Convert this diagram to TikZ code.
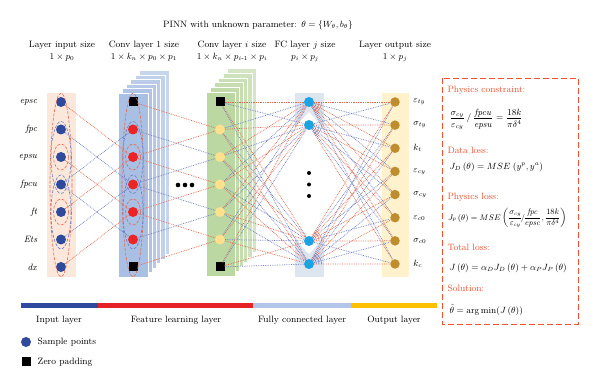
\documentclass[tikz,border=0pt]{standalone}
\usepackage{amsmath}
\usepackage{tikz}
\usetikzlibrary{positioning, shapes.geometric}

\definecolor{inbg}{HTML}{FBE8DB}
\definecolor{convblue}{HTML}{A9BFE3}
\definecolor{convgreen}{HTML}{BBD7A2}
\definecolor{fcbg}{HTML}{DDE5EF}
\definecolor{outbg}{HTML}{FFF2CD}
\definecolor{sampblue}{HTML}{2F4A9D}
\definecolor{convred}{HTML}{EE2326}
\definecolor{convyel}{HTML}{FFE08C}
\definecolor{fccyan}{HTML}{1CA3E3}
\definecolor{outgold}{HTML}{BF8D2C}
\definecolor{lred}{HTML}{E6694F}
\definecolor{lblue}{HTML}{6F80C2}
\definecolor{boxred}{HTML}{F0502D}
\definecolor{barblue}{HTML}{2E4A9E}
\definecolor{barred}{HTML}{E42227}
\definecolor{barlight}{HTML}{B4C6E7}
\definecolor{bargold}{HTML}{FFC000}

\tikzset{
 link/.style={densely dotted, line width=0.75pt, draw=#1},
 kernel/.style={line width=0.6pt, draw=#1, dash pattern=on 3pt off 1.5pt}
}

\begin{document}
\begin{tikzpicture}[x=1pt, y=-1pt, font=\fontsize{9.2}{12}\selectfont]
\tikzstyle{samp}=[circle, inner sep=0pt, minimum size=10pt]
\tikzstyle{pad}=[rectangle, inner sep=0pt, minimum size=9pt, fill=black]
\tikzstyle{head}=[align=center]
\tikzstyle{boxtxt}=[anchor=west, text=boxred]
\useasboundingbox (0,0) rectangle (600,379);

% 1. Backgrounds
%%%%%%%%%%%%%%%%
\fill[inbg] (47,93) rectangle (76,277);
\foreach \l in {5,...,0}{
  \pgfmathtruncatemacro\pct{100-7*\l}
  \filldraw[draw=white, line width=0.3pt, fill=convblue!\pct!white]
    (118+4.2*\l,93-4.5*\l) rectangle (148+4.2*\l,277-4.5*\l);
  \filldraw[draw=white, line width=0.3pt, fill=convgreen!\pct!white]
    (206+4.2*\l,92-4.7*\l) rectangle (235+4.2*\l,276-4.7*\l);
}
\fill[fcbg] (295,93) rectangle (324,277);
\begin{scope}
\clip (295,93) rectangle (324,277);
\fill[white] (309,112) .. controls (270,150) and (270,215) .. (309,254)
  .. controls (348,215) and (348,150) .. (309,112);
\end{scope}
\fill[outbg] (382,93) rectangle (409,277);

% 2. Nodes
%%%%%%%%%%
\node (title) at (258,25) {PINN with unknown parameter: $\theta=\{W_\theta,b_\theta\}$};
\node[head] (hin) at (62,51) {Layer input size\\$1\times p_0$};
\node[head] (hc1) at (144,51) {Conv layer 1 size\\$1\times k_n\times p_0\times p_1$};
\node[head] (hci) at (232,51) {Conv layer $i$ size\\$1\times k_n\times p_{i\text{-}1}\times p_i$};
\node[head] (hfc) at (305,51) {FC layer $j$ size\\$p_i\times p_j$};
\node[head] (hout) at (395,51) {Layer output size\\$1\times p_j$};

\foreach \lab [count=\k] in {epsc,fpc,epsu,fpcu,ft,Ets,dx}{
  \pgfmathsetmacro\yy{102+27.5*(\k-1)}
  \node[samp, fill=sampblue] (in\k) at (61,\yy) {};
  \node (lin\k) [left=15pt of in\k] {\textit{\lab}};
  \ifnum\k=1
    \node[pad] (c\k) at (133,\yy) {};
    \node[pad] (d\k) at (220,\yy) {};
  \else\ifnum\k=7
    \node[pad] (c\k) at (133,\yy) {};
    \node[pad] (d\k) at (220,\yy) {};
  \else
    \node[samp, fill=convred] (c\k) at (133,\yy) {};
    \node[samp, fill=convyel] (d\k) at (220,\yy) {};
  \fi\fi
}

\foreach \yy [count=\k] in {102,125,241,264}
  \node[samp, fill=fccyan] (f\k) at (309,\yy) {};
\foreach \yy in {173,184.5,196}
  \fill (309,\yy) circle (2);
\foreach \xx in {178,185,192}
  \fill (\xx,185) circle (2.3);

\foreach \lab [count=\k] in {\varepsilon_{ty},\sigma_{ty},k_t,\varepsilon_{cy},\sigma_{cy},\varepsilon_{c0},\sigma_{c0},k_c}{
  \pgfmathsetmacro\yy{102+23.14*(\k-1)}
  \node[samp, fill=outgold, minimum size=9.5pt] (o\k) at (395,\yy) {};
  \node (lo\k) [right=10pt of o\k] {$\lab$};
}

% kernels
\foreach \xx in {61,133}{
  \draw[kernel=lred] (\xx,185) ellipse [x radius=11, y radius=92];
  \draw[kernel=lblue] (\xx,157.5) ellipse [x radius=10, y radius=36];
  \draw[kernel=lblue] (\xx,212) ellipse [x radius=10, y radius=37];
  \draw[kernel=lred] (\xx,157) ellipse [x radius=7.5, y radius=13];
  \draw[kernel=lred] (\xx,212) ellipse [x radius=7.5, y radius=13];
}

% 3. Connections
%%%%%%%%%%%%%%%%
\foreach \k in {1,...,7}{
  \ifodd\k \def\lc{lred}\else\def\lc{lblue}\fi
  \foreach \s in {-2,2}{
    \pgfmathtruncatemacro\j{\k+\s}
    \ifnum\j>1 \ifnum\j<7 \draw[link=\lc] (in\k) -- (c\j); \fi\fi
  }
  \foreach \s in {-1,1}{
    \pgfmathtruncatemacro\j{\k+\s}
    \ifnum\j>1 \ifnum\j<7 \draw[link=\lc] (c\k) -- (d\j); \fi\fi
  }
  \foreach \f in {1,...,4}{
    \pgfmathtruncatemacro\p{\k+\f}
    \ifodd\p \def\lc{lblue}\else\def\lc{lred}\fi
    \draw[link=\lc] (d\k) -- (f\f);
  }
}
\foreach \f in {1,...,4}
  \foreach \o in {1,...,8}{
    \pgfmathtruncatemacro\p{\f+\o}
    \ifodd\p \def\lc{lblue}\else\def\lc{lred}\fi
    \draw[link=\lc] (f\f) -- (o\o);
  }

% signal arcs
\foreach \f/\lc/\a in {1/lred/0, 2/lblue/0, 3/lred/-60, 4/lblue/-60}
  \foreach \r in {7.5,10,12.5}
    \draw[line width=0.5pt, draw=\lc] (f\f.center) ++(\a:\r) arc[start angle=\a, end angle=\a+60, radius=\r];

% 4. Loss box
%%%%%%%%%%%%%
\draw[boxred, line width=0.9pt, dash pattern=on 6pt off 3pt] (442,78) rectangle (578,324);
\node[boxtxt] (pc) at (444,90) {Physics constraint:};
\node[anchor=west] (eqpc) at (446,119)
  {$\dfrac{\sigma_{cy}}{\varepsilon_{cy}}\,/\,\dfrac{\mathit{fpcu}}{\mathit{epsu}}=\dfrac{18k}{\pi\delta^4}$};
\node[boxtxt] (dl) at (444,150) {Data loss:};
\node[anchor=west] (eqdl) at (446,167) {$J_D\,(\theta)=MSE\;(y^p,y^a)$};
\node[boxtxt] (pl) at (444,197) {Physics loss:};
\node[anchor=west, scale=0.9, inner sep=1pt] (eqpl) at (447,218)
  {$J_p\,(\theta)=MSE\left(\dfrac{\sigma_{cy}}{\varepsilon_{cy}}\!/\!\dfrac{\mathit{fpc}}{\mathit{epsc}},\dfrac{18k}{\pi\delta^4}\right)$};
\node[boxtxt] (tl) at (444,247) {Total loss:};
\node[anchor=west] (eqtl) at (446,268) {$J\,(\theta)=\alpha_DJ_D\,(\theta)+\alpha_PJ_P\,(\theta)$};
\node[boxtxt] (sol) at (444,288) {Solution:};
\node[anchor=west] (eqsol) at (446,310) {$\hat{\theta}=\arg\min(J\,(\theta))$};

% 5. Layer bar and legend
%%%%%%%%%%%%%%%%%%%%%%%%%
\draw[barblue, line width=5pt] (21,306) -- (98,306);
\draw[barred, line width=5pt] (98,306) -- (253,306);
\draw[barlight, line width=5pt] (253,306) -- (351,306);
\draw[bargold, line width=5pt] (351,306) -- (437,306);
\node (bin) at (59,320) {Input layer};
\node (bfeat) at (176,320) {Feature learning layer};
\node (bfc) at (302,320) {Fully connected layer};
\node (bout) at (394,320) {Output layer};

\node[samp, fill=sampblue] (leg1) at (26,342) {};
\node (legt1) [right=3pt of leg1] {Sample points};
\node[pad] (leg2) at (26,362) {};
\node (legt2) [right=3.5pt of leg2] {Zero padding};
\end{tikzpicture}
\end{document}
